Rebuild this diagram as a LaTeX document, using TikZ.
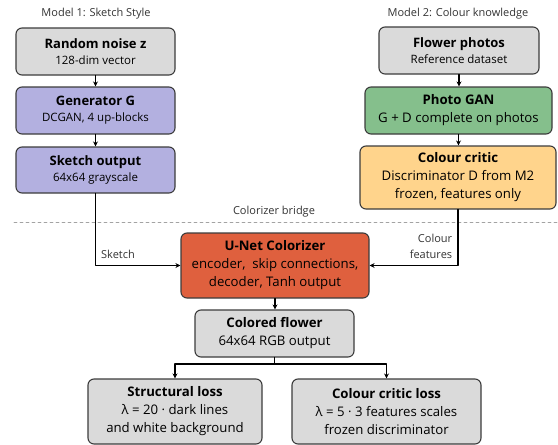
\documentclass[tikz,border=0pt]{standalone}
\usepackage{fontspec}
\setmainfont{Open Sans}
\usetikzlibrary{arrows.meta}

\definecolor{graybox}{HTML}{DADADA}
\definecolor{purplebox}{HTML}{B3B0E0}
\definecolor{greenbox}{HTML}{85BF8C}
\definecolor{orangebox}{HTML}{FFD48C}
\definecolor{redbox}{HTML}{DF603E}
\definecolor{edgecol}{HTML}{3C3C3C}
\definecolor{labelcol}{HTML}{333333}

\tikzset{
  box/.style={draw=edgecol,line width=1.1pt,rounded corners=6pt,align=center,inner sep=0pt},
  smallbox/.style={box,font=\fontsize{11.5}{16}\selectfont},
  bigbox/.style={box,font=\fontsize{13.2}{18}\selectfont},
  flow/.style={line width=1.3pt,-{Stealth[length=5pt,width=5pt]}},
  side/.style={font=\fontsize{11}{15.5}\selectfont,text=labelcol,inner sep=0pt}
}
\newcommand{\hd}[1]{{\fontsize{13}{16}\selectfont\bfseries #1}}

\begin{document}
\begin{tikzpicture}[x=1pt,y=-1pt,line cap=round,line join=round]
  \useasboundingbox (0,0) rectangle (558,445);
  % column headers
  \node[side] (m1) at (96,14) {Model 1: Sketch Style};
  \node[side] (m2) at (458,14) {Model 2: Colour knowledge};
  % model 1
  \node[smallbox,fill=graybox,minimum width=159pt,minimum height=47pt] (noise) at (95.5,51.5)
    {\hd{Random noise z}\\128-dim vector};
  \node[smallbox,fill=purplebox,minimum width=159pt,minimum height=47pt] (gen) at (95.5,110.5)
    {\hd{Generator G}\\DCGAN, 4 up-blocks};
  \node[smallbox,fill=purplebox,minimum width=159pt,minimum height=46pt] (sketch) at (95.5,170)
    {\hd{Sketch output}\\64x64 grayscale};
  % model 2
  \node[smallbox,fill=graybox,minimum width=160pt,minimum height=47pt] (photos) at (459,50.5)
    {\hd{Flower photos}\\Reference dataset};
  \node[bigbox,fill=greenbox,minimum width=187pt,minimum height=47pt] (pgan) at (458.5,110.5)
    {\textbf{Photo GAN}\\G + D complete on photos};
  \node[bigbox,fill=orangebox,minimum width=196pt,minimum height=63pt] (critic) at (458,177.5)
    {\textbf{Colour critic}\\Discriminator D from M2\\frozen, features only};
  % bridge
  \draw[labelcol!45,line width=0.6pt,dashed] (14,222) -- (558,222);
  \node[side] (bridge) at (274,212) {Colorizer bridge};
  \node[bigbox,fill=redbox,minimum width=188pt,minimum height=65pt] (unet) at (275,265.5)
    {\textbf{U-Net Colorizer}\\encoder,\ \ skip connections,\\decoder, Tanh output};
  \node[bigbox,fill=graybox,minimum width=159pt,minimum height=47pt] (colored) at (274.5,333.5)
    {\textbf{Colored flower}\\64x64 RGB output};
  \node[bigbox,fill=graybox,minimum width=174pt,minimum height=65pt] (sloss) at (175,411.5)
    {\textbf{Structural loss}\\λ = 20 · dark lines\\and white background};
  \node[bigbox,fill=graybox,minimum width=189pt,minimum height=65pt] (closs) at (386.5,411.5)
    {\textbf{Colour critic loss}\\λ = 5 · 3 features scales\\frozen discriminator};
  \node[side] (sklab) at (118,254) {Sketch};
  \node[side,align=right] (cflab) at (431,246.5) {Colour\\features};
  % connectors
  \draw[flow] (noise) -- (gen);
  \draw[flow] (gen) -- (sketch);
  \draw[flow] (photos) -- (photos |- pgan.north);
  \draw[flow] (pgan) -- (pgan |- critic.north);
  \draw[flow] (sketch.south) |- (unet.west);
  \draw[flow] (critic.south) |- (unet.east);
  \draw[flow] (unet.south) -- (unet.south |- colored.north);
  \coordinate (split) at (274.5,364);
  \draw[line width=1.3pt] (colored.south) -- (split);
  \draw[flow] (split) -| (sloss.north);
  \draw[flow] (split) -| (closs.north);
\end{tikzpicture}
\end{document}
